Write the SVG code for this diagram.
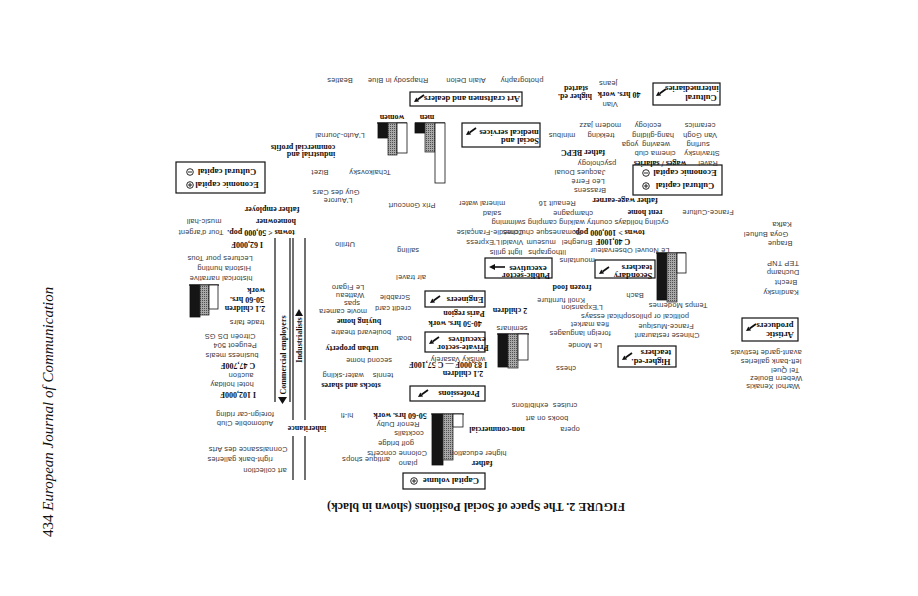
<svg xmlns="http://www.w3.org/2000/svg" xmlns:xlink="http://www.w3.org/1999/xlink" width="918" height="596" viewBox="0 0 918 596">
<style>
.s{font-family:"Liberation Sans",Arial,sans-serif;font-size:7.4px;letter-spacing:0.15px;fill:#3a3a3a;text-anchor:middle}
.b{font-family:"Liberation Serif","Times New Roman",serif;font-weight:bold;font-size:8px;fill:#111;text-anchor:middle}
.bt{font-family:"Liberation Serif","Times New Roman",serif;font-weight:bold;font-size:8.6px;fill:#111;text-anchor:middle}
.bx{fill:#fff;stroke:#111;stroke-width:1.2}
.ln{stroke:#111;stroke-width:1.2;fill:none}
.blk{fill:#151515;stroke:#111;stroke-width:0.8}
.gry{fill:url(#dots);stroke:#333;stroke-width:0.8}
.wht{fill:#fff;stroke:#111;stroke-width:0.8}
.sym{fill:none;stroke:#111;stroke-width:0.9}
</style>
<defs>
<pattern id="dots" width="2" height="2" patternUnits="userSpaceOnUse"><rect width="2" height="2" fill="#a8a8a8"/><rect width="1" height="1" fill="#505050"/></pattern>
<g id="ar"><line x1="10" y1="0" x2="3.7" y2="4.4" stroke="#111" stroke-width="1.8"/><polygon points="0,7 2.3,2.4 5.1,6.5" fill="#111"/></g>
<g id="ah"><line x1="5" y1="3" x2="16" y2="3" stroke="#111" stroke-width="1.6"/><polygon points="0,3 6,0 6,6" fill="#111"/></g>
<g id="plus"><circle r="3.3" class="sym"/><line x1="-2" y1="0" x2="2" y2="0" class="sym"/><line x1="0" y1="-2" x2="0" y2="2" class="sym"/></g>
<g id="minus"><circle r="3.3" class="sym"/><line x1="-2" y1="0" x2="2" y2="0" class="sym"/></g>
</defs>
<rect width="918" height="596" fill="#fff"/>

<text x="0" y="0" transform="translate(53,537) rotate(-90)" font-family="Liberation Serif,serif" font-size="15" fill="#111">434  <tspan font-style="italic">European Journal of Communication</tspan></text>
<text class="b" style="font-size:12px" x="476" y="511" transform="rotate(180 476 507)">FIGURE 2. The Space of Social Positions (shown in black)</text>

<g id="connectors">
<line class="ln" x1="275" y1="238" x2="275" y2="402"/>
<line class="ln" x1="290" y1="238" x2="290" y2="402"/>
<polygon points="278,397 287,397 282.5,404" fill="#111"/>
<text class="b" x="283" y="358" transform="rotate(-90 283 355)">Commercial employers</text>
<line class="ln" x1="293" y1="238" x2="293" y2="420"/>
<line class="ln" x1="305" y1="238" x2="305" y2="420"/>
<line class="ln" x1="293" y1="436" x2="293" y2="480"/>
<line class="ln" x1="305" y1="436" x2="305" y2="480"/>
<polygon points="295,316 303,316 299,309" fill="#111"/>
<text class="b" x="299" y="343" transform="rotate(-90 299 340)">Industrialists</text>
</g>

<g id="node-capital-left">
<rect class="bx" x="176" y="162" width="89" height="31"/>
<text class="bt" x="227" y="175" transform="rotate(180 227 172)">Cultural capital</text>
<use xlink:href="#minus" x="190" y="172"/>
<text class="bt" x="227" y="188" transform="rotate(180 227 185)">Economic capital</text>
<use xlink:href="#plus" x="190" y="185"/>
</g>
<g id="node-capital-right">
<rect class="bx" x="633" y="165" width="89" height="30"/>
<text class="bt" x="685" y="176" transform="rotate(180 685 173)">Economic capital</text>
<use xlink:href="#minus" x="646" y="173"/>
<text class="bt" x="685" y="189" transform="rotate(180 685 186)">Cultural capital</text>
<use xlink:href="#plus" x="646" y="186"/>
</g>
<g id="node-capital-volume">
<rect class="bx" x="403" y="473" width="82" height="16"/>
<text class="bt" x="451" y="484" transform="rotate(180 451 481)">Capital volume</text>
<use xlink:href="#plus" x="414" y="481"/>
</g>

<g id="node-cultural-intermediaries">
<rect class="bx" x="653" y="83" width="67" height="22"/>
<text class="bt" x="692" y="91" transform="rotate(180 692 88.5)">intermediaries</text>
<text class="bt" x="701" y="100" transform="rotate(180 701 97.5)">Cultural</text>
<use xlink:href="#ar" x="656" y="89"/>
</g>
<g id="node-art-craftsmen">
<rect class="bx" x="410" y="92" width="112" height="14"/>
<text class="bt" x="472" y="102" transform="rotate(180 472 99)">Art craftsmen and dealers</text>
<use xlink:href="#ar" x="414" y="95"/>
</g>
<g id="node-social-medical">
<rect class="bx" x="462" y="123" width="78" height="24"/>
<text class="bt" x="509" y="134.5" transform="rotate(180 509 132)">medical services</text>
<text class="bt" x="520" y="142.5" transform="rotate(180 520 140)">Social and</text>
<use xlink:href="#ar" x="466" y="128"/>
</g>
<g id="node-public-sector">
<rect class="bx" x="485" y="258" width="67" height="20"/>
<text class="bt" x="528" y="270.5" transform="rotate(180 528 268)">executives</text>
<text class="bt" x="526" y="277.5" transform="rotate(180 526 275)">Public-sector</text>
<use xlink:href="#ah" x="489" y="264"/>
</g>
<g id="node-secondary-teachers">
<rect class="bx" x="595" y="260" width="60" height="18"/>
<text class="bt" x="637" y="269.5" transform="rotate(180 637 267)">teachers</text>
<text class="bt" x="633" y="278" transform="rotate(180 633 275.5)">Secondary</text>
<use xlink:href="#ar" x="599" y="267"/>
</g>
<g id="node-engineers">
<rect class="bx" x="425" y="291" width="60" height="16"/>
<text class="bt" x="465" y="302" transform="rotate(180 465 299.5)">Engineers</text>
<use xlink:href="#ar" x="430" y="296"/>
</g>
<g id="node-private-sector">
<rect class="bx" x="425" y="332" width="60" height="20"/>
<text class="bt" x="467" y="341.5" transform="rotate(180 467 339)">executives</text>
<text class="bt" x="463" y="350" transform="rotate(180 463 347.5)">Private-sector</text>
<use xlink:href="#ar" x="429" y="337"/>
</g>
<g id="node-professions">
<rect class="bx" x="410" y="386" width="75" height="15"/>
<text class="bt" x="459" y="396" transform="rotate(180 459 393.5)">Professions</text>
<use xlink:href="#ar" x="418" y="390"/>
</g>
<g id="node-artistic-producers">
<rect class="bx" x="742" y="318" width="56" height="23"/>
<text class="bt" x="775" y="328" transform="rotate(180 775 325.5)">producers</text>
<text class="bt" x="780" y="336.5" transform="rotate(180 780 334)">Artistic</text>
<use xlink:href="#ar" x="746" y="324"/>
</g>
<g id="node-higher-ed-teachers">
<rect class="bx" x="618" y="346" width="58" height="21"/>
<text class="bt" x="656" y="355" transform="rotate(180 656 352.5)">teachers</text>
<text class="bt" x="651" y="363.5" transform="rotate(180 651 361)">Higher-ed.</text>
<use xlink:href="#ar" x="622" y="353"/>
</g>

<g id="bars-men-women">
<line class="ln" x1="377" y1="123" x2="407" y2="123"/>
<line class="ln" x1="415" y1="123" x2="445" y2="123"/>
<rect class="blk" x="378" y="123" width="10" height="15"/>
<rect class="gry" x="388" y="123" width="9" height="32"/>
<rect class="wht" x="397" y="123" width="10" height="30"/>
<rect class="blk" x="415" y="123" width="10" height="10"/>
<rect class="gry" x="425" y="123" width="10" height="29"/>
<rect class="wht" x="435" y="123" width="10" height="60"/>
<text class="b" x="392" y="119.5" transform="rotate(180 392 117)">women</text>
<text class="b" x="427" y="119.5" transform="rotate(180 427 117)">men</text>
</g>
<g id="bars-commercial">
<line class="ln" x1="189" y1="285" x2="219" y2="285"/>
<rect class="blk" x="190" y="285" width="10" height="32"/>
<rect class="gry" x="200" y="285" width="9" height="30"/>
<rect class="wht" x="209" y="285" width="9" height="24"/>
</g>
<g id="bars-secondary">
<line class="ln" x1="656" y1="253" x2="686" y2="253"/>
<rect class="blk" x="657" y="253" width="10" height="47"/>
<rect class="gry" x="667" y="253" width="10" height="49"/>
<rect class="wht" x="677" y="253" width="9" height="20"/>
</g>
<g id="bars-engineers">
<line class="ln" x1="497" y1="334" x2="529" y2="334"/>
<rect class="blk" x="498" y="334" width="10" height="33"/>
<rect class="gry" x="508" y="334" width="10" height="34"/>
<rect class="wht" x="518" y="334" width="10" height="26"/>
</g>
<g id="bars-capital">
<line class="ln" x1="431" y1="414" x2="464" y2="414"/>
<rect class="blk" x="432" y="414" width="11" height="51"/>
<rect class="gry" x="443" y="414" width="10" height="46"/>
<rect class="wht" x="453" y="414" width="10" height="13"/>
</g>

<g id="labels-bold">
<text class="b" x="576" y="90.5" transform="rotate(180 576 88)">started</text>
<text class="b" x="575" y="98.5" transform="rotate(180 575 96)">higher ed.</text>
<text class="b" x="619" y="96.5" transform="rotate(180 619 94)">40 hrs. work</text>
<text class="b" x="311" y="156.5" transform="rotate(180 311 154)">industrial and</text>
<text class="b" x="303" y="149.5" transform="rotate(180 303 147)">commercial profits</text>
<text class="b" x="583" y="154.5" transform="rotate(180 583 152)">father BEPC</text>
<text class="b" x="660" y="165.5" transform="rotate(180 660 163)">wages / salaries</text>
<text class="b" x="625" y="202.5" transform="rotate(180 625 200)">father wage-earner</text>
<text class="b" x="272" y="211.5" transform="rotate(180 272 209)">father employer</text>
<text class="b" x="276" y="223.5" transform="rotate(180 276 221)">homeowner</text>
<text class="b" x="261" y="234.5" transform="rotate(180 261 232)">towns &lt; 50,000 pop.</text>
<text class="b" x="645" y="214.5" transform="rotate(180 645 212)">rent home</text>
<text class="b" x="609" y="234.5" transform="rotate(180 609 232)">towns &gt; 100,000 pop.</text>
<text class="b" x="247" y="246.5" transform="rotate(180 247 244)">I 62,000F</text>
<text class="b" x="613" y="243.5" transform="rotate(180 613 241)">C 40,100F</text>
<text class="b" x="256" y="292.5" transform="rotate(180 256 290)">work</text>
<text class="b" x="247" y="301.5" transform="rotate(180 247 299)">50-60 hrs.</text>
<text class="b" x="245" y="310.5" transform="rotate(180 245 308)">2.1 children</text>
<text class="b" x="359" y="323.5" transform="rotate(180 359 321)">buying home</text>
<text class="b" x="352" y="350.5" transform="rotate(180 352 348)">urban property</text>
<text class="b" x="351" y="387.5" transform="rotate(180 351 385)">stocks and shares</text>
<text class="b" x="572" y="289.5" transform="rotate(180 572 287)">frozen food</text>
<text class="b" x="464" y="315.5" transform="rotate(180 464 313)">Paris region</text>
<text class="b" x="455" y="325.5" transform="rotate(180 455 323)">40-50 hrs. work</text>
<text class="b" x="448" y="366.5" transform="rotate(180 448 364)">I 83,000F — C 57,100F</text>
<text class="b" x="463" y="375.5" transform="rotate(180 463 373)">2.1 children</text>
<text class="b" x="510" y="312.5" transform="rotate(180 510 310)">2 children</text>
<text class="b" x="238" y="367.5" transform="rotate(180 238 365)">C 47,700F</text>
<text class="b" x="238" y="396.5" transform="rotate(180 238 394)">I 102,000F</text>
<text class="b" x="307" y="430.5" transform="rotate(180 307 428)">inheritance</text>
<text class="b" x="497" y="431.5" transform="rotate(180 497 429)">non-commercial</text>
<text class="b" x="400" y="417.5" transform="rotate(180 400 415)">50-60 hrs. work</text>
<text class="b" x="482" y="465.5" transform="rotate(180 482 463)">father</text>
</g>

<g id="labels-small">
<text class="s" x="340" y="82.5" transform="rotate(180 340 80)">Beatles</text>
<text class="s" x="398" y="82.5" transform="rotate(180 398 80)">Rhapsody in Blue</text>
<text class="s" x="466" y="82.5" transform="rotate(180 466 80)">Alain Delon</text>
<text class="s" x="522" y="82.5" transform="rotate(180 522 80)">photography</text>
<text class="s" x="608" y="85.5" transform="rotate(180 608 83)">jeans</text>
<text class="s" x="610" y="106.5" transform="rotate(180 610 104)">Vian</text>
<text class="s" x="340" y="137.5" transform="rotate(180 340 135)">L'Auto-Journal</text>
<text class="s" x="320" y="174.5" transform="rotate(180 320 172)">Bizet</text>
<text class="s" x="370" y="174.5" transform="rotate(180 370 172)">Tchaikovsky</text>
<text class="s" x="700" y="127.5" transform="rotate(180 700 125)">ceramics</text>
<text class="s" x="648" y="127.5" transform="rotate(180 648 125)">ecology</text>
<text class="s" x="600" y="127.5" transform="rotate(180 600 125)">modern jazz</text>
<text class="s" x="700" y="137.5" transform="rotate(180 700 135)">Van Gogh</text>
<text class="s" x="653" y="137.5" transform="rotate(180 653 135)">hang-gliding</text>
<text class="s" x="601" y="137.5" transform="rotate(180 601 135)">trekking</text>
<text class="s" x="562" y="137.5" transform="rotate(180 562 135)">minibus</text>
<text class="s" x="698" y="146.5" transform="rotate(180 698 144)">surfing</text>
<text class="s" x="656" y="146.5" transform="rotate(180 656 144)">weaving</text>
<text class="s" x="630" y="146.5" transform="rotate(180 630 144)">yoga</text>
<text class="s" x="702" y="155.5" transform="rotate(180 702 153)">Stravinsky</text>
<text class="s" x="655" y="155.5" transform="rotate(180 655 153)">cinema club</text>
<text class="s" x="708" y="165.5" transform="rotate(180 708 163)">Ravel</text>
<text class="s" x="597" y="165.5" transform="rotate(180 597 163)">psychology</text>
<text class="s" x="580" y="174.5" transform="rotate(180 580 172)">Jacques Douai</text>
<text class="s" x="588" y="183.5" transform="rotate(180 588 181)">Léo Ferré</text>
<text class="s" x="590" y="192.5" transform="rotate(180 590 190)">Brassens</text>
<text class="s" x="336" y="194.5" transform="rotate(180 336 192)">Guy des Cars</text>
<text class="s" x="338" y="202.5" transform="rotate(180 338 200)">L'Aurore</text>
<text class="s" x="412" y="207.5" transform="rotate(180 412 205)">Prix Goncourt</text>
<text class="s" x="482" y="205.5" transform="rotate(180 482 203)">mineral water</text>
<text class="s" x="557" y="205.5" transform="rotate(180 557 203)">Renault 16</text>
<text class="s" x="204" y="223.5" transform="rotate(180 204 221)">music-hall</text>
<text class="s" x="201" y="234.5" transform="rotate(180 201 232)">Tour d'argent</text>
<text class="s" x="492" y="215.5" transform="rotate(180 492 213)">salad</text>
<text class="s" x="573" y="215.5" transform="rotate(180 573 213)">champagne</text>
<text class="s" x="708" y="214.5" transform="rotate(180 708 212)">France-Culture</text>
<text class="s" x="580" y="224.5" transform="rotate(180 580 222)">cycling holidays  country walking  camping  swimming</text>
<text class="s" x="782" y="226.5" transform="rotate(180 782 224)">Kafka</text>
<text class="s" x="490" y="234.5" transform="rotate(180 490 232)">Comédie-Française</text>
<text class="s" x="542" y="234.5" transform="rotate(180 542 232)">Romanesque churches</text>
<text class="s" x="766" y="236.5" transform="rotate(180 766 234)">Goya  Buñuel</text>
<text class="s" x="345" y="246.5" transform="rotate(180 345 244)">Utrillo</text>
<text class="s" x="483" y="244.5" transform="rotate(180 483 242)">L'Express</text>
<text class="s" x="512" y="244.5" transform="rotate(180 512 242)">Vivaldi</text>
<text class="s" x="541" y="244.5" transform="rotate(180 541 242)">museum</text>
<text class="s" x="577" y="244.5" transform="rotate(180 577 242)">Brueghel</text>
<text class="s" x="780" y="245.5" transform="rotate(180 780 243)">Braque</text>
<text class="s" x="506" y="254.5" transform="rotate(180 506 252)">light grills</text>
<text class="s" x="547" y="254.5" transform="rotate(180 547 252)">lithographs</text>
<text class="s" x="630" y="252.5" transform="rotate(180 630 250)">Le Nouvel Observateur</text>
<text class="s" x="408" y="252.5" transform="rotate(180 408 250)">sailing</text>
<text class="s" x="577" y="262.5" transform="rotate(180 577 260)">mountains</text>
<text class="s" x="783" y="265.5" transform="rotate(180 783 263)">TEP  TNP</text>
<text class="s" x="783" y="274.5" transform="rotate(180 783 272)">Duchamp</text>
<text class="s" x="786" y="284.5" transform="rotate(180 786 282)">Brecht</text>
<text class="s" x="781" y="294.5" transform="rotate(180 781 292)">Kandinsky</text>
<text class="s" x="220" y="260.5" transform="rotate(180 220 258)">Lectures pour Tous</text>
<text class="s" x="224" y="270.5" transform="rotate(180 224 268)">Historia  hunting</text>
<text class="s" x="221" y="280.5" transform="rotate(180 221 278)">historical narrative</text>
<text class="s" x="411" y="279.5" transform="rotate(180 411 277)">air travel</text>
<text class="s" x="348" y="289.5" transform="rotate(180 348 287)">Le Figaro</text>
<text class="s" x="350" y="297.5" transform="rotate(180 350 295)">Watteau</text>
<text class="s" x="352" y="305.5" transform="rotate(180 352 303)">spas</text>
<text class="s" x="343" y="313.5" transform="rotate(180 343 311)">movie camera</text>
<text class="s" x="361" y="334.5" transform="rotate(180 361 332)">boulevard theatre</text>
<text class="s" x="369" y="362.5" transform="rotate(180 369 360)">second home</text>
<text class="s" x="343" y="377.5" transform="rotate(180 343 375)">water-skiing</text>
<text class="s" x="383" y="377.5" transform="rotate(180 383 375)">tennis</text>
<text class="s" x="395" y="299.5" transform="rotate(180 395 297)">Scrabble</text>
<text class="s" x="393" y="310.5" transform="rotate(180 393 308)">credit card</text>
<text class="s" x="404" y="340.5" transform="rotate(180 404 338)">boat</text>
<text class="s" x="458" y="361.5" transform="rotate(180 458 359)">whisky  Vasarely</text>
<text class="s" x="561" y="302.5" transform="rotate(180 561 300)">Knoll furniture</text>
<text class="s" x="582" y="309.5" transform="rotate(180 582 307)">L'Expansion</text>
<text class="s" x="512" y="330.5" transform="rotate(180 512 328)">seminars</text>
<text class="s" x="635" y="318.5" transform="rotate(180 635 316)">political or philosophical essays</text>
<text class="s" x="678" y="307.5" transform="rotate(180 678 305)">Temps Modernes</text>
<text class="s" x="635" y="297.5" transform="rotate(180 635 295)">Bach</text>
<text class="s" x="666" y="328.5" transform="rotate(180 666 326)">France-Musique</text>
<text class="s" x="590" y="326.5" transform="rotate(180 590 324)">flea market</text>
<text class="s" x="667" y="337.5" transform="rotate(180 667 335)">Chinese restaurant</text>
<text class="s" x="580" y="335.5" transform="rotate(180 580 333)">foreign languages</text>
<text class="s" x="585" y="347.5" transform="rotate(180 585 345)">Le Monde</text>
<text class="s" x="566" y="370.5" transform="rotate(180 566 368)">chess</text>
<text class="s" x="766" y="354.5" transform="rotate(180 766 352)">avant-garde festivals</text>
<text class="s" x="771" y="363.5" transform="rotate(180 771 361)">left-bank galleries</text>
<text class="s" x="785" y="372.5" transform="rotate(180 785 370)">Tel Quel</text>
<text class="s" x="776" y="380.5" transform="rotate(180 776 378)">Webern  Boulez</text>
<text class="s" x="773" y="388.5" transform="rotate(180 773 386)">Warhol  Xenakis</text>
<text class="s" x="247" y="324.5" transform="rotate(180 247 322)">trade fairs</text>
<text class="s" x="230" y="338.5" transform="rotate(180 230 336)">Citroën DS GS</text>
<text class="s" x="235" y="347.5" transform="rotate(180 235 345)">Peugeot 504</text>
<text class="s" x="232" y="357.5" transform="rotate(180 232 355)">business meals</text>
<text class="s" x="241" y="377.5" transform="rotate(180 241 375)">auction</text>
<text class="s" x="232" y="386.5" transform="rotate(180 232 384)">hotel holiday</text>
<text class="s" x="245" y="416.5" transform="rotate(180 245 414)">foreign-car riding</text>
<text class="s" x="245" y="425.5" transform="rotate(180 245 423)">Automobile Club</text>
<text class="s" x="248" y="451.5" transform="rotate(180 248 449)">Connaissance des Arts</text>
<text class="s" x="240" y="461.5" transform="rotate(180 240 459)">right-bank galleries</text>
<text class="s" x="265" y="472.5" transform="rotate(180 265 470)">art collection</text>
<text class="s" x="347" y="417.5" transform="rotate(180 347 415)">hi-fi</text>
<text class="s" x="565" y="407.5" transform="rotate(180 565 405)">cruises</text>
<text class="s" x="530" y="407.5" transform="rotate(180 530 405)">exhibitions</text>
<text class="s" x="547" y="420.5" transform="rotate(180 547 418)">books on art</text>
<text class="s" x="570" y="431.5" transform="rotate(180 570 429)">opera</text>
<text class="s" x="398" y="426.5" transform="rotate(180 398 424)">Renoir  Duby</text>
<text class="s" x="409" y="435.5" transform="rotate(180 409 433)">cocktails</text>
<text class="s" x="396" y="445.5" transform="rotate(180 396 443)">golf  bridge</text>
<text class="s" x="397" y="455.5" transform="rotate(180 397 453)">Colonne concerts</text>
<text class="s" x="478" y="455.5" transform="rotate(180 478 453)">higher education</text>
<text class="s" x="408" y="465.5" transform="rotate(180 408 463)">piano</text>
<text class="s" x="366" y="461.5" transform="rotate(180 366 459)">antique shops</text>
</g>
</svg>
